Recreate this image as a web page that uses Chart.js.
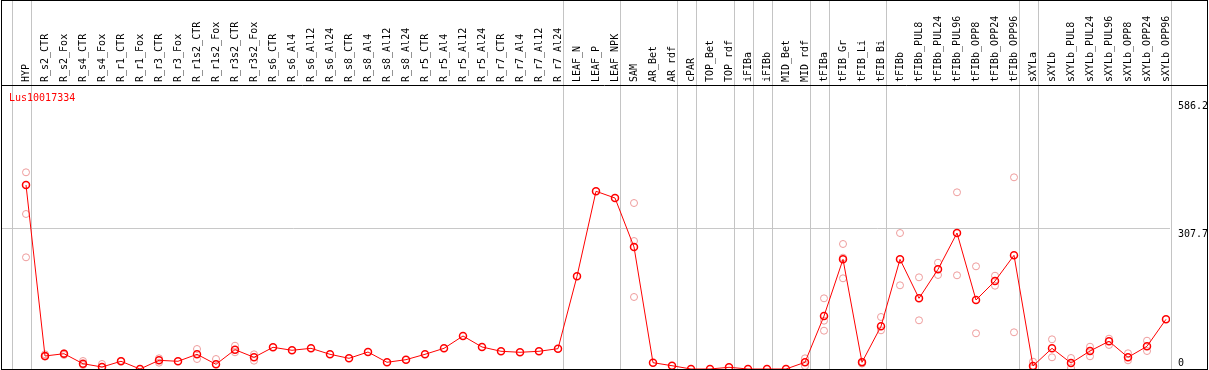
<!DOCTYPE html>
<html>
<head>
<meta charset="utf-8">
<script src="https://cdn.jsdelivr.net/npm/chart.js@4.4.1/dist/chart.umd.min.js"></script>
<style>
  html, body { margin: 0; padding: 0; background: #fff; }
  #exprCanvas { display: block; }
</style>
</head>
<body>
<canvas id="exprCanvas" width="1209" height="370"></canvas>
<script>
const geneName = "Lus10017334";

const sampleLabels = [
  "HYP",
  "R_s2_CTR", "R_s2_Fox", "R_s4_CTR", "R_s4_Fox", "R_r1_CTR", "R_r1_Fox",
  "R_r3_CTR", "R_r3_Fox", "R_r1s2_CTR", "R_r1s2_Fox", "R_r3s2_CTR", "R_r3s2_Fox",
  "R_s6_CTR", "R_s6_Al4", "R_s6_Al12", "R_s6_Al24", "R_s8_CTR", "R_s8_Al4",
  "R_s8_Al12", "R_s8_Al24", "R_r5_CTR", "R_r5_Al4", "R_r5_Al12", "R_r5_Al24",
  "R_r7_CTR", "R_r7_Al4", "R_r7_Al12", "R_r7_Al24",
  "LEAF_N", "LEAF_P", "LEAF_NPK",
  "SAM", "AR_Bet", "AR_rdf", "cPAR", "TOP_Bet", "TOP_rdf", "iFIBa", "iFIBb",
  "MID_Bet", "MID_rdf", "tFIBa", "tFIB_Gr", "tFIB_Li", "tFIB_Bi", "tFIBb",
  "tFIBb_PUL8", "tFIBb_PUL24", "tFIBb_PUL96", "tFIBb_OPP8", "tFIBb_OPP24", "tFIBb_OPP96",
  "sXYLa", "sXYLb", "sXYLb_PUL8", "sXYLb_PUL24", "sXYLb_PUL96", "sXYLb_OPP8",
  "sXYLb_OPP24", "sXYLb_OPP96"
];

// mean expression (red line)
const meanValues = [
  403,
  28.5, 33.5, 11.6, 4.4, 16.9, 0, 19, 16.9, 32.2, 10.3, 42.3, 25.6,
  47.5, 41, 45.3, 32.2, 23.4, 37.2, 14.7, 20.4, 32.2, 45.3, 72.3, 48.2,
  38.8, 36.6, 38.8, 44.5,
  203, 389.2, 374.5,
  267.2, 13.8, 7.2, 0, 0, 3.7, 0, 0,
  0, 14.7, 116, 240.2, 14.7, 93.5, 240.2,
  154.8, 218.3, 297.8, 151.1, 192.7, 249,
  6.6, 45.3, 13.1, 39.4, 60.7, 25.6, 49.7, 108.8
];

// single replicates (pale circles)
const rep1Values = [
  430.8,
  32.2, 34.4, 17.5, 11, 18, null, 23.4, null, 43.8, 21.9, 51, 32.2,
  null, null, null, null, null, null, null, null, null, null, null, null,
  null, null, null, null,
  null, null, null,
  363.5, null, null, null, null, null, null, null,
  null, 23.4, 154.8, 273.8, 16, 113.9, 297.8,
  200.8, 232.8, 387, 224.9, 204.3, 419.8,
  16, 65, 24.1, 48.8, 66.4, 34.4, 62, null
];
const rep2Values = [
  339.5,
  27, 30.7, 8.8, null, null, null, 13.8, null, 21.9, null, 36.6, 18.2,
  null, null, null, null, null, null, null, null, null, null, null, null,
  null, null, null, null,
  null, null, null,
  280.3, null, null, null, null, null, null, null,
  null, 6.6, 105.8, 243.8, 12, 84.7, 183.3,
  106.6, 205.9, 205.2, 78.2, 182.4, 80.4,
  2, 25.6, 2.2, 27.8, 52.6, 19, 39.4, null
];
const rep3Values = [
  244.6,
  null, null, null, null, null, null, null, null, null, null, null, null,
  null, null, null, null, null, null, null, null, null, null, null, null,
  null, null, null, null,
  null, null, null,
  157.7, null, null, null, null, null, null, null,
  null, null, 83.9, 198.6, null, null, null,
  null, null, null, null, null, null,
  null, null, null, null, null, null, null, null
];

const yTickValues = [0, 307.7, 586.2];
// sample index after which a group separator is drawn
const groupEnds = [-1, 0, 28, 31, 34, 35, 37, 38, 39, 41, 42, 45, 52, 53, 60];

const monoFont = "DejaVu Sans Mono";

function toPoints(vals) {
  const pts = [];
  vals.forEach((v, i) => { if (v !== null) pts.push({ x: i, y: v }); });
  return pts;
}

const repStyle = {
  showLine: false,
  pointRadius: 3.5,
  pointBorderWidth: 1,
  pointBorderColor: "#ee9c9c",
  pointBackgroundColor: "rgba(0,0,0,0)",
  order: 1
};

const framePlugin = {
  id: "framePlugin",
  beforeDatasetsDraw(chart) {
    const ctx = chart.ctx;
    const xs = chart.scales.x;
    ctx.save();
    ctx.strokeStyle = "#c4c4c4";
    ctx.lineWidth = 1;
    groupEnds.forEach(k => {
      const px = Math.round(xs.getPixelForValue(k + 0.24)) + 0.5;
      ctx.beginPath();
      ctx.moveTo(px, 0);
      ctx.lineTo(px, chart.chartArea.bottom);
      ctx.stroke();
    });
    ctx.restore();
  },
  afterDraw(chart) {
    const ctx = chart.ctx;
    const ys = chart.scales.y;
    ctx.save();
    ctx.strokeStyle = "#000";
    ctx.lineWidth = 1;
    ctx.strokeRect(1.5, 0.5, 1206, 369);
    ctx.beginPath();
    ctx.moveTo(1, 85.5);
    ctx.lineTo(1208, 85.5);
    ctx.stroke();

    ctx.font = "10px '" + monoFont + "'";
    ctx.fillStyle = "#000";
    ctx.textAlign = "left";
    yTickValues.forEach(v => {
      const py = Math.round(ys.getPixelForValue(v));
      if (v === 0) {
        ctx.textBaseline = "bottom";
        ctx.fillText(String(v), 1178, py - 1);
      } else {
        ctx.textBaseline = "top";
        ctx.fillText(String(v), 1178, py);
      }
    });

    ctx.fillStyle = "#ff0000";
    ctx.textBaseline = "top";
    ctx.fillText(geneName, 9, 93);
    ctx.restore();
  }
};

new Chart(document.getElementById("exprCanvas"), {
  type: "line",
  data: {
    datasets: [
      {
        data: toPoints(meanValues),
        borderColor: "#ff0000",
        borderWidth: 1,
        tension: 0,
        pointRadius: 3.5,
        pointBorderWidth: 1.5,
        pointBorderColor: "#ff0000",
        pointBackgroundColor: "rgba(0,0,0,0)",
        order: 0
      },
      Object.assign({ data: toPoints(rep1Values) }, repStyle),
      Object.assign({ data: toPoints(rep2Values) }, repStyle),
      Object.assign({ data: toPoints(rep3Values) }, repStyle)
    ]
  },
  options: {
    responsive: false,
    devicePixelRatio: 1,
    animation: false,
    events: [],
    layout: { autoPadding: false, padding: { left: 1, right: 1, top: 0, bottom: 1 } },
    plugins: { legend: { display: false }, tooltip: { enabled: false } },
    scales: {
      x: {
        type: "linear",
        position: "top",
        min: -25 / 19,
        max: -25 / 19 + 1169 / 19,
        afterBuildTicks: s => { s.ticks = sampleLabels.map((_, i) => ({ value: i })); },
        afterFit: s => {
          s.height = 85;
          s.paddingLeft = 0;
          s.paddingRight = 0;
        },
        ticks: {
          autoSkip: false,
          minRotation: 90,
          maxRotation: 90,
          padding: 3,
          labelOffset: 12,
          color: "#000",
          font: { family: monoFont, size: 10 },
          callback: v => sampleLabels[v]
        },
        grid: { display: false, drawTicks: false },
        border: { display: false }
      },
      y: {
        position: "right",
        min: 0,
        max: 622,
        afterBuildTicks: s => { s.ticks = yTickValues.map(v => ({ value: v })); },
        afterFit: s => { s.width = 38; },
        ticks: { display: false },
        grid: {
          drawTicks: false,
          color: c => (c.tick && c.tick.value === 307.7) ? "#c8c8c8" : "rgba(0,0,0,0)"
        },
        border: { display: false }
      }
    }
  },
  plugins: [framePlugin]
});
</script>
</body>
</html>
